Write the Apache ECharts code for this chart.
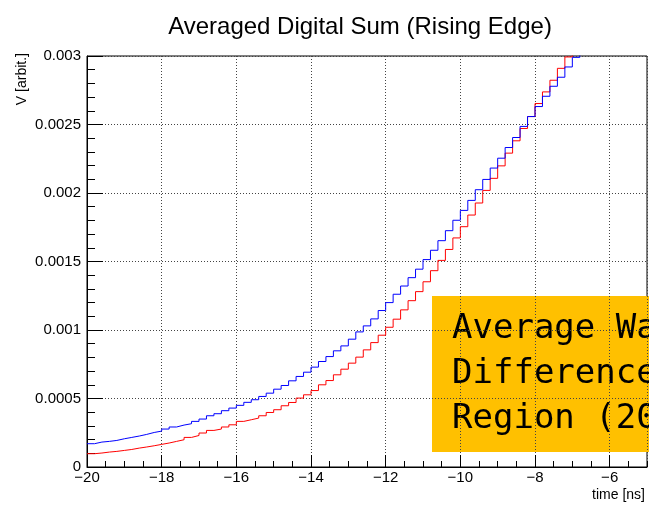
<!DOCTYPE html>
<html>
<head>
<meta charset="utf-8">
<script src="https://cdn.jsdelivr.net/npm/echarts@6/dist/echarts.min.js"></script>
<style>
  html, body { margin: 0; padding: 0; background: #fff; }
  #chart { width: 649px; height: 507px; }
</style>
</head>
<body>
<div id="chart"></div>
<script>
// Histogram binning: fixed-width bins starting at -20 ns
const binStart = -20;
const binWidth = 0.2;

// Averaged digital sum per bin (V, arbitrary units); bins above the frame are clipped
const blueValues = [
  0.000170, 0.000182, 0.000187, 0.000194, 0.000206, 0.000216, 0.000226, 0.000238, 0.000252, 0.000262,
  0.000277, 0.000292, 0.000306, 0.000316, 0.000333, 0.000350, 0.000374, 0.000389, 0.000411, 0.000430,
  0.000450, 0.000472, 0.000491, 0.000515, 0.000539, 0.000568, 0.000595, 0.000629, 0.000661, 0.000692,
  0.000729, 0.000770, 0.000806, 0.000848, 0.000884, 0.000933, 0.000986, 0.001030, 0.001081, 0.001142,
  0.001200, 0.001261, 0.001321, 0.001382, 0.001444, 0.001514, 0.001582, 0.001652, 0.001725, 0.001801,
  0.001873, 0.001946, 0.002024, 0.002099, 0.002182, 0.002254, 0.002332, 0.002405, 0.002486, 0.002558,
  0.002631, 0.002706, 0.002779, 0.002845, 0.002920, 0.002990, 0.003070
];
const redValues = [
  0.000097, 0.000102, 0.000109, 0.000114, 0.000121, 0.000128, 0.000138, 0.000146, 0.000155, 0.000165,
  0.000175, 0.000187, 0.000199, 0.000216, 0.000230, 0.000248, 0.000267, 0.000277, 0.000292, 0.000308,
  0.000333, 0.000345, 0.000357, 0.000374, 0.000398, 0.000418, 0.000447, 0.000471, 0.000503, 0.000527,
  0.000558, 0.000600, 0.000631, 0.000673, 0.000714, 0.000758, 0.000802, 0.000855, 0.000908, 0.000962,
  0.001020, 0.001079, 0.001147, 0.001214, 0.001280, 0.001352, 0.001433, 0.001508, 0.001588, 0.001672,
  0.001754, 0.001839, 0.001927, 0.002019, 0.002107, 0.002198, 0.002291, 0.002381, 0.002471, 0.002558,
  0.002653, 0.002738, 0.002823, 0.002910, 0.002993, 0.003080
];

// Axis ranges
const xRange = [-20, -5];
const yRange = [0, 0.003];

// Note box text
const noteLines = ['Average Wa', 'Difference', 'Region (20'];

// Turn bin contents into step-line points at the bin edges
function toSteps(values) {
  const pts = values.map((v, i) => [+(binStart + i * binWidth).toFixed(3), v]);
  const n = values.length;
  pts.push([+(binStart + n * binWidth).toFixed(3), values[n - 1]]);
  return pts;
}

const FONT = '"Liberation Sans", Arial, Helvetica, sans-serif';
const minus = v => (v < 0 ? '\u2212' + Math.abs(v) : String(v));

const chart = echarts.init(document.getElementById('chart'), null, { renderer: 'canvas' });

chart.setOption({
  animation: false,
  backgroundColor: '#fff',
  grid: {
    left: 87, right: 2, top: 56, bottom: 40,
    show: true, borderColor: '#000', borderWidth: 1, backgroundColor: 'transparent'
  },
  xAxis: [
    {
      type: 'value', min: xRange[0], max: xRange[1], interval: 2,
      axisLine: { show: true, onZero: false, lineStyle: { color: '#000', width: 1 } },
      axisTick: { show: true, inside: true, length: 12, lineStyle: { color: '#000' } },
      axisLabel: {
        show: true, margin: 3, color: '#000', fontFamily: FONT, fontSize: 15,
        showMaxLabel: false, formatter: minus
      },
      splitLine: { show: true, lineStyle: { color: '#444', width: 1, type: [1, 2] } }
    },
    {
      // minor ticks every 0.5 ns
      type: 'value', min: xRange[0], max: xRange[1], interval: 0.5, position: 'bottom',
      axisLine: { show: false, onZero: false },
      axisTick: { show: true, inside: true, length: 6, lineStyle: { color: '#000' } },
      axisLabel: { show: false },
      splitLine: { show: false }
    }
  ],
  yAxis: {
    type: 'value', min: yRange[0], max: yRange[1], interval: 0.0005,
    axisLine: { show: true, onZero: false, lineStyle: { color: '#000', width: 1 } },
    axisTick: { show: true, inside: true, length: 16, lineStyle: { color: '#000' } },
    minorTick: { show: true, splitNumber: 5, length: 8, lineStyle: { color: '#000' } },
    axisLabel: {
      show: true, margin: 6, color: '#000', fontFamily: FONT, fontSize: 15,
      formatter: v => String(Math.round(v * 1e6) / 1e6)
    },
    splitLine: { show: true, lineStyle: { color: '#444', width: 1, type: [1, 2] } }
  },
  series: [
    {
      type: 'line', name: 'red', xAxisIndex: 0, step: 'end', showSymbol: false, symbol: 'none',
      clip: true, data: toSteps(redValues),
      lineStyle: { color: '#ff0000', width: 1 }, itemStyle: { color: '#ff0000' }
    },
    {
      type: 'line', name: 'blue', xAxisIndex: 0, step: 'end', showSymbol: false, symbol: 'none',
      clip: true, data: toSteps(blueValues),
      lineStyle: { color: '#0000ff', width: 1 }, itemStyle: { color: '#0000ff' }
    }
  ],
  graphic: [
    {
      type: 'text', x: 360, y: 27, z: 10,
      style: {
        text: 'Averaged Digital Sum (Rising Edge)', fill: '#000',
        font: '24px ' + FONT, textAlign: 'center', textVerticalAlign: 'middle'
      }
    },
    {
      type: 'text', x: 645, y: 495, z: 10,
      style: {
        text: 'time [ns]', fill: '#000', font: '14px ' + FONT,
        textAlign: 'right', textVerticalAlign: 'middle'
      }
    },
    {
      type: 'text', x: 22, y: 53, rotation: Math.PI / 2, z: 10,
      style: {
        text: 'V [arbit.]', fill: '#000', font: '14px ' + FONT,
        textAlign: 'right', textVerticalAlign: 'middle'
      }
    },
    {
      type: 'group', z: 100,
      children: [
        {
          type: 'rect', shape: { x: 432, y: 296, width: 230, height: 156 },
          style: { fill: '#FFC000' }
        }
      ].concat(noteLines.map((t, i) => ({
        type: 'text', x: 452, y: 329 + i * 45,
        style: {
          text: t, fill: '#000', font: '34px "DejaVu Sans Mono", "Liberation Mono", monospace',
          textAlign: 'left', textVerticalAlign: 'middle'
        }
      })))
    }
  ]
});
</script>
</body>
</html>
